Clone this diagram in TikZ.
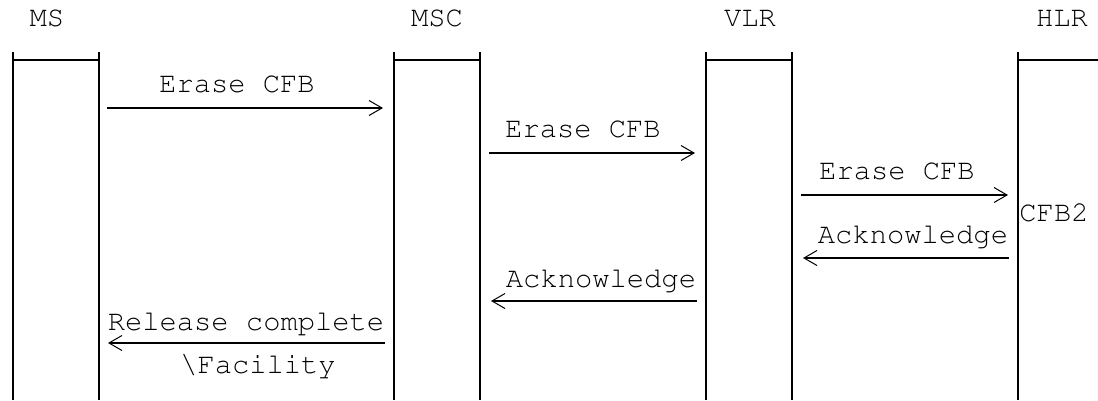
\documentclass[tikz,border=0pt]{standalone}
\usepackage[T1]{fontenc}
\usepackage{courier}
\usetikzlibrary{arrows.meta}

\begin{document}
\begin{tikzpicture}[x=1pt,y=-1pt]
\tikzset{lbl/.style={font=\ttfamily\fontsize{28.8}{29}\selectfont,inner sep=0pt,anchor=base}}
\tikzset{life/.style={line width=2.2pt}}
\tikzset{head/.style={line width=1.2pt}}
\tikzset{msg/.style={line width=1.8pt,-{Straight Barb[length=13pt,width=15pt,line width=1pt]}}}
\useasboundingbox (0,0) rectangle (1098,400);
\foreach \l/\r in {13/99,394/480,706/792}{
\draw[life] (\l,52) -- (\l,400) (\r,52) -- (\r,400);
\draw[head] (\l,60) -- (\r,60);}
\draw[life] (1018,52) -- (1018,400);
\draw[head] (1018,60) -- (1098,60);
\node[lbl] (ms) at (47,26) {MS};
\node[lbl] (msc) at (437,26) {MSC};
\node[lbl] (vlr) at (750,26) {VLR};
\node[lbl] (hlr) at (1062,26) {HLR};
\coordinate (ms-e1) at (107,108);
\coordinate (msc-e1) at (383,108);
\coordinate (msc-e2) at (489,153);
\coordinate (vlr-e2) at (695,153);
\coordinate (vlr-e3) at (801,195);
\coordinate (hlr-e3) at (1008,195);
\coordinate (hlr-a1) at (1009,258);
\coordinate (vlr-a1) at (803,258);
\coordinate (vlr-a2) at (697,301);
\coordinate (msc-a2) at (491,301);
\coordinate (msc-rel) at (385,343);
\coordinate (ms-rel) at (108,343);
\draw[msg] (ms-e1) -- (msc-e1);
\draw[msg] (msc-e2) -- (vlr-e2);
\draw[msg] (vlr-e3) -- (hlr-e3);
\draw[msg] (hlr-a1) -- (vlr-a1);
\draw[msg] (vlr-a2) -- (msc-a2);
\draw[msg] (msc-rel) -- (ms-rel);
\node[lbl] (erase1) at (237,92) {Erase CFB};
\node[lbl] (erase2) at (583,137) {Erase CFB};
\node[lbl] (erase3) at (897,179) {Erase CFB};
\node[lbl] (cfb) at (1054,221) {CFB2};
\node[lbl] (ack1) at (913,243) {Acknowledge};
\node[lbl] (ack2) at (601,287) {Acknowledge};
\node[lbl] (rel) at (246,330) {Release complete};
\node[lbl] (fac) at (258,373) {\textbackslash Facility};
\end{tikzpicture}
\end{document}
